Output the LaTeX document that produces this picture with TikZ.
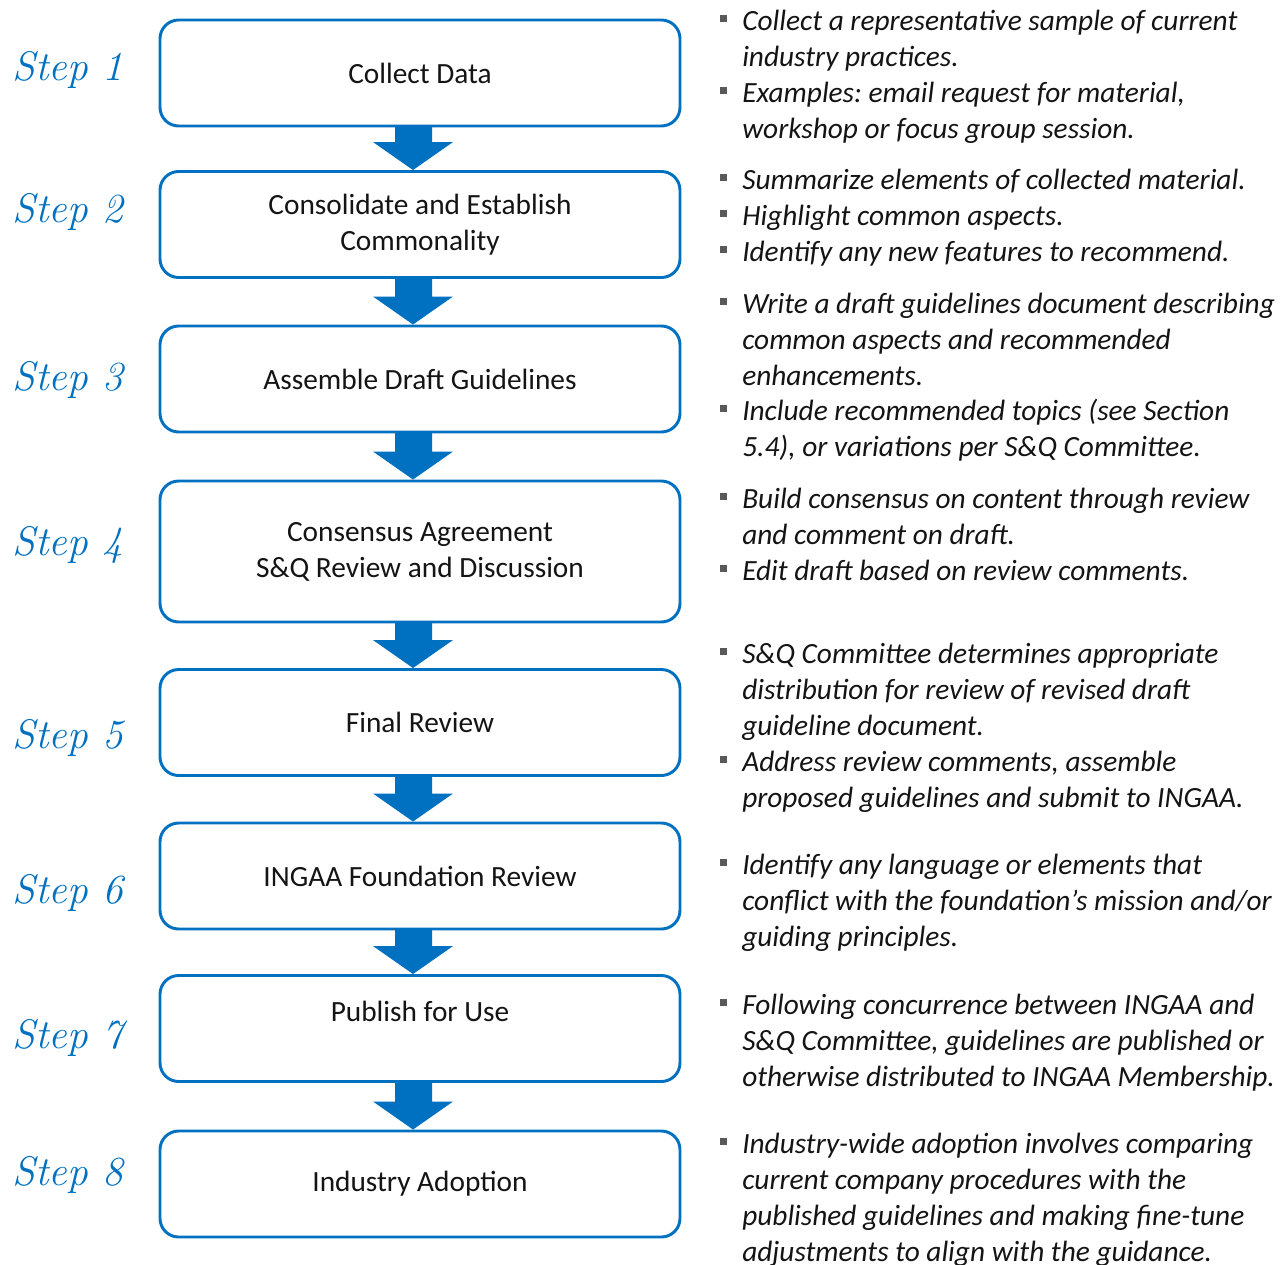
\documentclass[tikz,border=0pt]{standalone}
\usepackage{fontspec}
\setmainfont{Carlito}
\usetikzlibrary{calc}
\frenchspacing
\definecolor{stepblue}{RGB}{0,112,192}
\definecolor{bulletgray}{RGB}{89,89,89}
\definecolor{textdark}{RGB}{20,20,20}
\tikzset{
  stepbox/.style={draw=stepblue, line width=2.2pt, rounded corners=14pt,
    minimum width=390pt, minimum height=79.5pt, fill=white, text=textdark,
    align=center, font=\fontsize{22}{27}\selectfont},
  steplabel/.style={anchor=west, text=stepblue, inner sep=0pt,
    font=\fontfamily{lmr}\fontsize{31}{31}\selectfont\itshape},
  notetext/.style={anchor=north west, align=left, inner sep=0pt, text=textdark,
    font=\fontsize{22}{27}\selectfont\itshape}
}
% block arrow from box #1 down to box #2
\newcommand{\flowarrow}[2]{
  \fill[stepblue] ($(#1.south)+(-25,-2)$) -- ($(#1.south)+(12,-2)$)
    -- ($(#2.north)+(12,-28)$) -- ($(#2.north)+(33,-28)$)
    -- ($(#2.north)+(-7,0)$) -- ($(#2.north)+(-47,-28)$)
    -- ($(#2.north)+(-25,-28)$) -- cycle;
}
% bullet: name, y of first line, text
\newcommand{\bitem}[3]{
  \fill[bulletgray] (720,#2-6.5) rectangle +(7,7);
  \node[notetext] (#1) at (742,#2-15.5) {\strut#3};
}

\begin{document}
\begin{tikzpicture}[x=0.75pt,y=-0.75pt]
  \useasboundingbox (0,0) rectangle (1288,1264);

  % steps
  \foreach \n/\y in {1/70,2/212,3/380,4/545,5/738,6/893,7/1038,8/1175} {
    \node[steplabel] (lab\n) at (12,\y) {Step \n};
  }

  % boxes
  \node[stepbox] (s1) at (420,73) {Collect Data};
  \node[stepbox] (s2) at (420,224.5) {Consolidate and Establish\\Commonality};
  \node[stepbox] (s3) at (420,379) {Assemble Draft Guidelines};
  \node[stepbox, minimum height=105.75pt] (s4) at (420,551.5) {Consensus Agreement\\S\&Q Review and Discussion};
  \node[stepbox] (s5) at (420,722.5) {Final Review};
  \node[stepbox] (s6) at (420,876) {INGAA Foundation Review};
  \node[stepbox, text depth=26pt] (s7) at (420,1028.5) {Publish for Use};
  \node[stepbox] (s8) at (420,1184) {Industry Adoption};

  \flowarrow{s1}{s2}
  \flowarrow{s2}{s3}
  \flowarrow{s3}{s4}
  \flowarrow{s4}{s5}
  \flowarrow{s5}{s6}
  \flowarrow{s6}{s7}
  \flowarrow{s7}{s8}

  % notes
  \bitem{n1a}{21}{Collect a representative sample of current\\industry practices.}
  \bitem{n1b}{93}{Examples: email request for material,\\workshop or focus group session.}

  \bitem{n2a}{180}{Summarize elements of collected material.}
  \bitem{n2b}{216}{Highlight common aspects.}
  \bitem{n2c}{252}{Identify any new features to recommend.}

  \bitem{n3a}{304}{Write a draft guidelines document describing\\common aspects and recommended\\enhancements.}
  \bitem{n3b}{411}{Include recommended topics (see Section\\5.4), or variations per S\&Q Committee.}

  \bitem{n4a}{499}{Build consensus on content through review\\and comment on draft.}
  \bitem{n4b}{571}{Edit draft based on review comments.}

  \bitem{n5a}{654}{S\&Q Committee determines appropriate\\distribution for review of revised draft\\guideline document.}
  \bitem{n5b}{762}{Address review comments, assemble\\proposed guidelines and submit to INGAA.}

  \bitem{n6a}{865}{Identify any language or elements that\\conflict with the foundation’s mission and/or\\guiding principles.}

  \bitem{n7a}{1005}{Following concurrence between INGAA and\\S\&Q Committee, guidelines are published or\\otherwise distributed to INGAA Membership.}

  \bitem{n8a}{1144}{Industry-wide adoption involves comparing\\current company procedures with the\\published guidelines and making fine-tune\\adjustments to align with the guidance.}
\end{tikzpicture}
\end{document}
